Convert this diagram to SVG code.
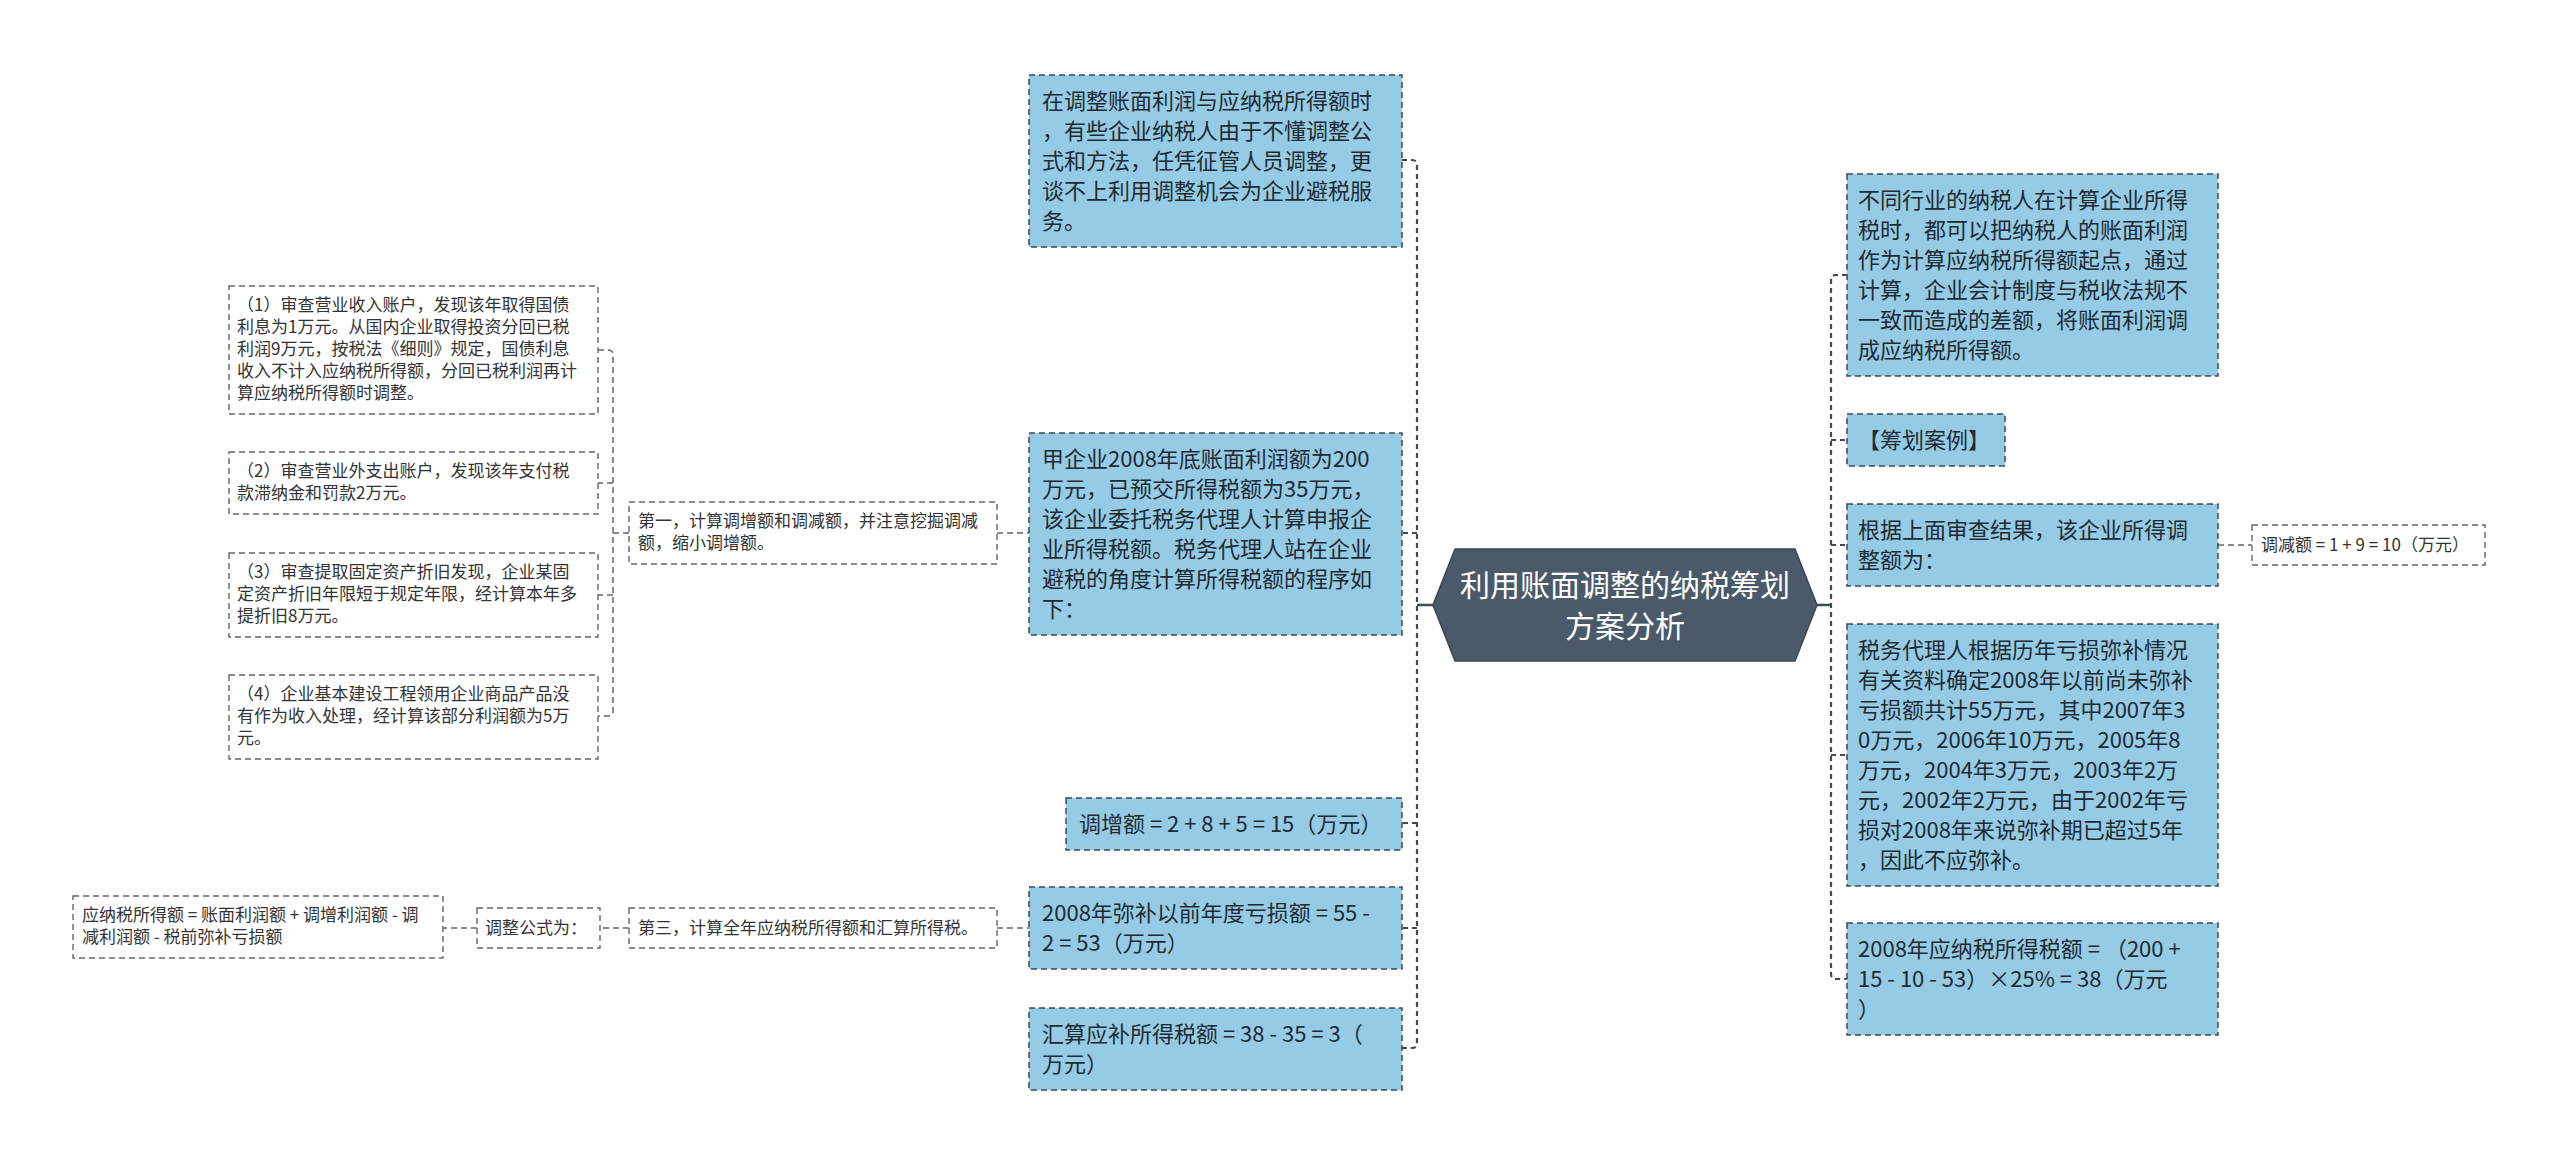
<svg xmlns="http://www.w3.org/2000/svg" width="2560" height="1165" viewBox="0 0 2560 1165">
<defs>
<style>
.big rect{fill:#95CBE4;stroke:#3C4A57;stroke-width:1.5;stroke-dasharray:6 4}
.big text{font-family:"Noto Sans CJK SC","Noto Sans",sans-serif;font-size:22px;fill:#1f2a33}
.sm rect{fill:#ffffff;stroke:#666;stroke-width:1.4;stroke-dasharray:6 4}
.sm text{font-family:"Noto Sans CJK SC","Noto Sans",sans-serif;font-size:17px;fill:#333}
.spine{fill:none;stroke:#3f4a55;stroke-width:2.2;stroke-dasharray:5 4}
.thin{fill:none;stroke:#666;stroke-width:1.5;stroke-dasharray:6 4}
.solid{fill:none;stroke:#3f4a55;stroke-width:2.5}
.root text{font-family:"Noto Sans CJK SC","Noto Sans",sans-serif;font-size:30px;fill:#ffffff;text-anchor:middle}
</style>
</defs>
<rect width="2560" height="1165" fill="#ffffff"/>
<g id="connectors">
<path class="solid" d="M1433 605 H1417"/>
<path class="solid" d="M1817 605 H1831"/>
<path class="spine" d="M1402 160 H1412 Q1417 160 1417 165 V1043 Q1417 1048 1412 1048 H1402"/>
<path class="spine" d="M1417 533 H1402"/>
<path class="spine" d="M1417 823 H1402"/>
<path class="spine" d="M1417 928 H1402"/>
<path class="spine" d="M1847 275 H1836 Q1831 275 1831 280 V974 Q1831 979 1836 979 H1847"/>
<path class="spine" d="M1831 440 H1847"/>
<path class="spine" d="M1831 545 H1847"/>
<path class="spine" d="M1831 755 H1847"/>
<path class="thin" d="M2218 545 H2252"/>
<path class="thin" d="M997 533 H1029"/>
<path class="thin" d="M629 533 H613"/>
<path class="thin" d="M598 350 H608 Q613 350 613 355 V711 Q613 716 608 716 H598"/>
<path class="thin" d="M613 483 H598"/>
<path class="thin" d="M613 595 H598"/>
<path class="thin" d="M997 928 H1029"/>
<path class="thin" d="M629 928 H600"/>
<path class="thin" d="M477 928 H443"/>
</g>
<g id="root" class="root">
<polygon points="1433,605 1455,549 1795,549 1817,605 1795,661 1455,661" fill="#4A5A69" stroke="#3a4753" stroke-width="1.5"/>
<text x="1625" y="596">利用账面调整的纳税筹划</text>
<text x="1625" y="637">方案分析</text>
</g>
<g id="n-l1" class="big">
<rect x="1029" y="75" width="373" height="172"/>
<text x="1042" y="109">在调整账面利润与应纳税所得额时</text>
<text x="1042" y="139">，有些企业纳税人由于不懂调整公</text>
<text x="1042" y="169">式和方法，任凭征管人员调整，更</text>
<text x="1042" y="199">谈不上利用调整机会为企业避税服</text>
<text x="1042" y="229">务。</text>
</g>
<g id="n-l2" class="big">
<rect x="1029" y="433" width="373" height="202"/>
<text x="1042" y="467">甲企业2008年底账面利润额为200</text>
<text x="1042" y="497">万元，已预交所得税额为35万元，</text>
<text x="1042" y="527">该企业委托税务代理人计算申报企</text>
<text x="1042" y="557">业所得税额。税务代理人站在企业</text>
<text x="1042" y="587">避税的角度计算所得税额的程序如</text>
<text x="1042" y="617">下：</text>
</g>
<g id="n-l3" class="big">
<rect x="1066" y="798" width="336" height="52"/>
<text x="1079" y="832">调增额 = 2 + 8 + 5 = 15（万元）</text>
</g>
<g id="n-l4" class="big">
<rect x="1029" y="887" width="373" height="82"/>
<text x="1042" y="921">2008年弥补以前年度亏损额 = 55 -</text>
<text x="1042" y="951">2 = 53（万元）</text>
</g>
<g id="n-l5" class="big">
<rect x="1029" y="1008" width="373" height="82"/>
<text x="1042" y="1042">汇算应补所得税额 = 38 - 35 = 3（</text>
<text x="1042" y="1072">万元）</text>
</g>
<g id="n-r1" class="big">
<rect x="1847" y="174" width="371" height="202"/>
<text x="1858" y="208">不同行业的纳税人在计算企业所得</text>
<text x="1858" y="238">税时，都可以把纳税人的账面利润</text>
<text x="1858" y="268">作为计算应纳税所得额起点，通过</text>
<text x="1858" y="298">计算，企业会计制度与税收法规不</text>
<text x="1858" y="328">一致而造成的差额，将账面利润调</text>
<text x="1858" y="358">成应纳税所得额。</text>
</g>
<g id="n-r2" class="big">
<rect x="1847" y="414" width="158" height="52"/>
<text x="1858" y="448">【筹划案例】</text>
</g>
<g id="n-r3" class="big">
<rect x="1847" y="504" width="371" height="82"/>
<text x="1858" y="538">根据上面审查结果，该企业所得调</text>
<text x="1858" y="568">整额为：</text>
</g>
<g id="n-r4" class="big">
<rect x="1847" y="624" width="371" height="262"/>
<text x="1858" y="658">税务代理人根据历年亏损弥补情况</text>
<text x="1858" y="688">有关资料确定2008年以前尚未弥补</text>
<text x="1858" y="718">亏损额共计55万元，其中2007年3</text>
<text x="1858" y="748">0万元，2006年10万元，2005年8</text>
<text x="1858" y="778">万元，2004年3万元，2003年2万</text>
<text x="1858" y="808">元，2002年2万元，由于2002年亏</text>
<text x="1858" y="838">损对2008年来说弥补期已超过5年</text>
<text x="1858" y="868">，因此不应弥补。</text>
</g>
<g id="n-r5" class="big">
<rect x="1847" y="923" width="371" height="112"/>
<text x="1858" y="957">2008年应纳税所得税额 = （200 +</text>
<text x="1858" y="987">15 - 10 - 53）×25% = 38（万元</text>
<text x="1858" y="1017">）</text>
</g>
<g id="n-r3a" class="sm">
<rect x="2252" y="525" width="233" height="40"/>
<text x="2261" y="551">调减额 = 1 + 9 = 10（万元）</text>
</g>
<g id="n-first" class="sm">
<rect x="629" y="502" width="368" height="62"/>
<text x="638" y="527">第一，计算调增额和调减额，并注意挖掘调减</text>
<text x="638" y="549">额，缩小调增额。</text>
</g>
<g id="n-c1" class="sm">
<rect x="229" y="286" width="369" height="128"/>
<text x="237" y="311">（1）审查营业收入账户，发现该年取得国债</text>
<text x="237" y="333">利息为1万元。从国内企业取得投资分回已税</text>
<text x="237" y="355">利润9万元，按税法《细则》规定，国债利息</text>
<text x="237" y="377">收入不计入应纳税所得额，分回已税利润再计</text>
<text x="237" y="399">算应纳税所得额时调整。</text>
</g>
<g id="n-c2" class="sm">
<rect x="229" y="452" width="369" height="62"/>
<text x="237" y="477">（2）审查营业外支出账户，发现该年支付税</text>
<text x="237" y="499">款滞纳金和罚款2万元。</text>
</g>
<g id="n-c3" class="sm">
<rect x="229" y="553" width="369" height="84"/>
<text x="237" y="578">（3）审查提取固定资产折旧发现，企业某固</text>
<text x="237" y="600">定资产折旧年限短于规定年限，经计算本年多</text>
<text x="237" y="622">提折旧8万元。</text>
</g>
<g id="n-c4" class="sm">
<rect x="229" y="675" width="369" height="84"/>
<text x="237" y="700">（4）企业基本建设工程领用企业商品产品没</text>
<text x="237" y="722">有作为收入处理，经计算该部分利润额为5万</text>
<text x="237" y="744">元。</text>
</g>
<g id="n-third" class="sm">
<rect x="629" y="908" width="368" height="40"/>
<text x="638" y="934">第三，计算全年应纳税所得额和汇算所得税。</text>
</g>
<g id="n-formula" class="sm">
<rect x="477" y="908" width="123" height="40"/>
<text x="485" y="934">调整公式为：</text>
</g>
<g id="n-formula-text" class="sm">
<rect x="73" y="896" width="370" height="62"/>
<text x="82" y="921">应纳税所得额 = 账面利润额 + 调增利润额 - 调</text>
<text x="82" y="943">减利润额 - 税前弥补亏损额</text>
</g>
</svg>
